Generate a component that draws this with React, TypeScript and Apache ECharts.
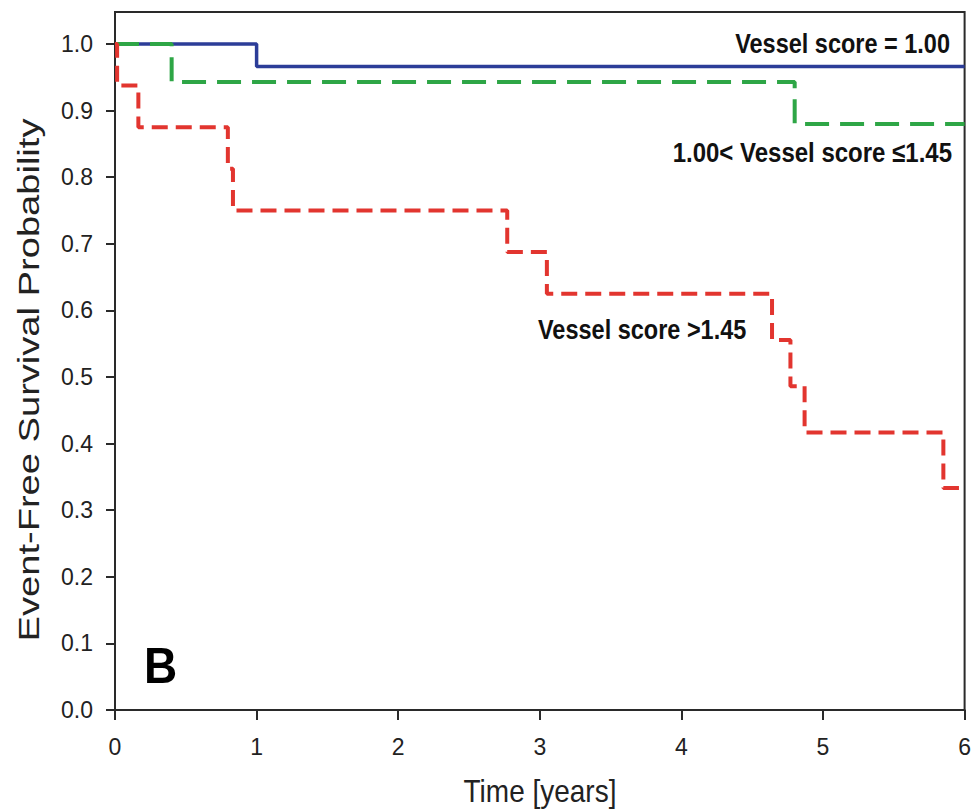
import React, { useEffect, useRef } from "react";
import * as echarts from "echarts";

// Kaplan-Meier step data (time in years, survival probability)
const timesLow = [0, 1.0, 6.0];
const survLow = [1.0, 0.966, 0.966];

const timesMid = [0, 0.4, 4.8, 6.0];
const survMid = [1.0, 0.943, 0.88, 0.88];

const timesHigh = [0, 0.015, 0.165, 0.797, 0.833, 2.77, 3.05, 4.64, 4.77, 4.87, 5.85, 6.0];
const survHigh = [1.0, 0.9375, 0.875, 0.8125, 0.75, 0.6875, 0.625, 0.5556, 0.4861, 0.4167, 0.3333, 0.3333];

const yTicks = [0, 0.1, 0.2, 0.3, 0.4, 0.5, 0.6, 0.7, 0.8, 0.9, 1.0];
const xTicks = [0, 1, 2, 3, 4, 5, 6];

const labelLow = "Vessel score = 1.00";
const labelMid = "1.00< Vessel score ≤1.45";
const labelHigh = "Vessel score >1.45";
const panelLetter = "B";
const xTitle = "Time [years]";
const yTitle = "Event-Free Survival Probability";

const FONT = "'Liberation Sans', Arial, Helvetica, sans-serif";

function pairs(t: number[], s: number[]) {
  return t.map((v, i) => [v, s[i]]);
}

export default function App() {
  const ref = useRef<HTMLDivElement>(null);
  useEffect(() => {
    if (!ref.current) return;
    const chart = echarts.init(ref.current, null, { renderer: "svg" });
    const axisColor = "#2a2a2a";
    chart.setOption({
      animation: false,
      backgroundColor: "#ffffff",
      grid: {
        left: 115,
        right: 8,
        top: 12,
        bottom: 99,
        show: true,
        borderColor: axisColor,
        borderWidth: 2,
        backgroundColor: "transparent",
      },
      xAxis: {
        type: "value",
        min: 0,
        max: 6,
        interval: 1,
        axisLine: { show: true, lineStyle: { color: axisColor, width: 2 } },
        axisTick: { show: true, inside: false, length: 10, lineStyle: { color: axisColor, width: 2 }, customValues: xTicks },
        axisLabel: {
          color: "#222",
          fontSize: 23,
          fontFamily: FONT,
          margin: 25,
          customValues: xTicks,
          formatter: (v: number) => String(v),
        },
        splitLine: { show: false },
      },
      yAxis: {
        type: "value",
        min: 0,
        max: 1.048,
        axisLine: { show: true, lineStyle: { color: axisColor, width: 2 } },
        axisTick: { show: true, inside: false, length: 9, lineStyle: { color: axisColor, width: 2 }, customValues: yTicks },
        axisLabel: {
          color: "#222",
          fontSize: 23,
          fontFamily: FONT,
          margin: 22,
          customValues: yTicks,
          formatter: (v: number) => v.toFixed(1),
        },
        splitLine: { show: false },
      },
      series: [
        {
          type: "line",
          step: "end",
          showSymbol: false,
          data: pairs(timesLow, survLow),
          lineStyle: { color: "#2c3d98", width: 3.5, type: "solid" },
          z: 2,
        },
        {
          type: "line",
          step: "end",
          showSymbol: false,
          data: pairs(timesMid, survMid),
          lineStyle: { color: "#2ea646", width: 4, type: [24, 11] },
          z: 3,
        },
        {
          type: "line",
          step: "end",
          showSymbol: false,
          data: pairs(timesHigh, survHigh),
          lineStyle: { color: "#e2352f", width: 4, type: [16, 8] },
          z: 4,
        },
      ],
      graphic: [
        {
          type: "text",
          x: 950,
          y: 43,
          scaleY: 1.15,
          style: {
            text: labelLow,
            fill: "#111",
            font: `bold 23.5px ${FONT}`,
            textAlign: "right",
            textVerticalAlign: "middle",
          },
          z: 10,
        },
        {
          type: "text",
          x: 952,
          y: 152,
          scaleY: 1.15,
          style: {
            text: labelMid,
            fill: "#111",
            font: `bold 24px ${FONT}`,
            textAlign: "right",
            textVerticalAlign: "middle",
          },
          z: 10,
        },
        {
          type: "text",
          x: 538,
          y: 329,
          scaleY: 1.15,
          style: {
            text: labelHigh,
            fill: "#111",
            font: `bold 23.5px ${FONT}`,
            textAlign: "left",
            textVerticalAlign: "middle",
          },
          z: 10,
        },
        {
          type: "text",
          x: 144,
          y: 665,
          scaleY: 1.1,
          style: {
            text: panelLetter,
            fill: "#000",
            font: `bold 46px ${FONT}`,
            textAlign: "left",
            textVerticalAlign: "middle",
          },
          z: 10,
        },
        {
          type: "text",
          x: 540,
          y: 791,
          scaleY: 1.15,
          style: {
            text: xTitle,
            fill: "#222",
            font: `28px ${FONT}`,
            textAlign: "center",
            textVerticalAlign: "middle",
          },
          z: 10,
        },
        {
          type: "text",
          x: 29,
          y: 380,
          rotation: Math.PI / 2,
          scaleX: 1.27,
          style: {
            text: yTitle,
            fill: "#222",
            font: `30px ${FONT}`,
            textAlign: "center",
            textVerticalAlign: "middle",
          },
          z: 10,
        },
      ],
    });
    return () => chart.dispose();
  }, []);
  return (
    <div
      ref={ref}
      style={{ position: "absolute", left: 0, top: 0, width: 974, height: 809, background: "#fff" }}
    />
  );
}
